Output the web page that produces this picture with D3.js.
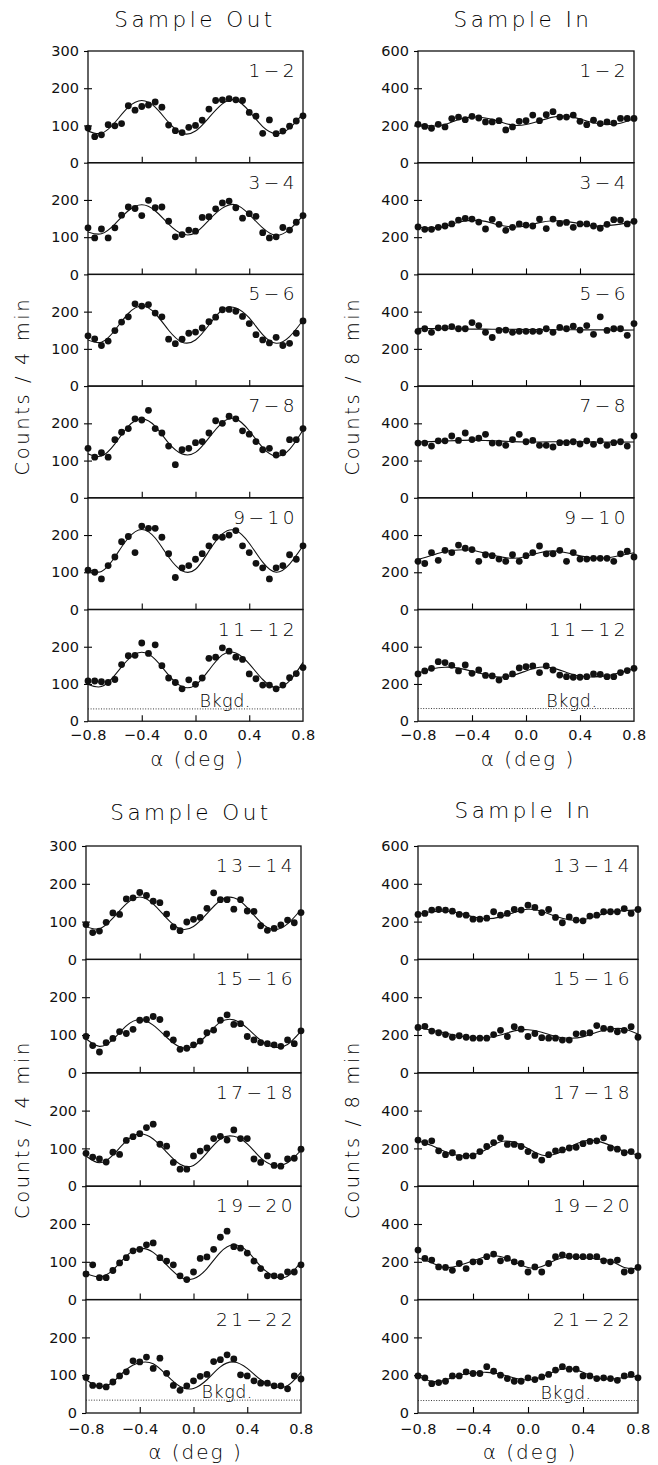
<!DOCTYPE html>
<html>
<head>
<meta charset="utf-8">
<script src="https://cdn.jsdelivr.net/npm/d3@7"></script>
<style>
  body { margin: 0; background: #fff; }
  svg text { font-family: "DejaVu Sans", sans-serif; font-weight: 200; fill: #000; }
  svg .tick text { font-weight: 400; fill: #111; }
</style>
</head>
<body>
<div id="chart"></div>
<script>
// angle of each measured point (deg)
var alpha = [-0.8, -0.75, -0.7, -0.65, -0.6, -0.55, -0.5, -0.45, -0.4, -0.35, -0.3,
             -0.25, -0.2, -0.15, -0.1, -0.05, 0.0, 0.05, 0.1, 0.15, 0.2, 0.25,
             0.3, 0.35, 0.4, 0.45, 0.5, 0.55, 0.6, 0.65, 0.7, 0.75, 0.8];
// angles where the fitted curves were read
var fitAlpha = [-0.8, -0.7, -0.6, -0.5, -0.4, -0.3, -0.2, -0.1, 0.0,
                0.1, 0.2, 0.3, 0.4, 0.5, 0.6, 0.7, 0.8];

var topLabels = ["1\u22122", "3\u22124", "5\u22126", "7\u22128", "9\u221210", "11\u221212"];
var bottomLabels = ["13\u221214", "15\u221216", "17\u221218", "19\u221220", "21\u221222"];

// Sample Out, counts / 4 min
var outTopCounts = [
  [93,70,75,102,99,105,153,141,151,155,163,149,101,86,81,95,100,114,144,167,169,172,169,167,135,125,79,115,78,85,98,112,126],
  [125,98,122,98,125,159,181,177,158,199,179,181,143,101,107,119,116,153,155,176,192,197,179,151,163,156,112,98,101,126,119,140,158],
  [135,127,109,121,149,172,186,221,215,219,196,186,126,114,126,142,145,156,173,185,205,206,201,187,168,138,124,116,131,109,115,142,175],
  [133,109,121,109,156,176,186,212,209,235,186,174,139,89,129,133,148,151,174,207,200,219,212,180,171,151,129,133,115,121,156,156,186],
  [106,100,82,118,141,182,196,153,224,218,218,194,150,86,112,118,135,150,171,194,194,200,212,171,153,124,112,82,112,118,147,135,171],
  [108,108,106,104,112,152,176,177,210,182,205,149,116,104,87,111,99,116,169,172,197,188,172,166,127,114,97,97,87,97,117,128,144]
];
var outTopFit = [
  [85,79,108,149,167,149,108,79,85,121,158,168,138,97,78,93,132],
  [114,109,135,171,187,171,135,109,112,146,178,187,161,125,105,121,158],
  [124,118,150,195,215,195,150,118,124,164,205,210,183,138,115,133,177],
  [118,112,145,192,212,192,147,118,122,161,202,212,180,135,112,130,182],
  [108,102,141,192,215,192,141,104,108,157,203,212,178,127,100,122,171],
  [99,93,124,166,185,166,124,93,97,137,178,183,154,112,90,108,158]
];

// Sample In, counts / 8 min
var inTopCounts = [
  [206,195,185,206,192,237,245,231,249,240,219,219,226,176,192,222,226,256,226,258,274,245,245,256,222,204,228,210,219,213,238,238,238],
  [255,242,242,253,260,271,292,301,297,281,244,296,269,237,253,271,265,260,297,246,297,274,279,253,271,271,260,248,269,294,292,271,285],
  [294,308,289,313,313,320,308,308,341,325,289,261,299,301,289,294,294,294,294,308,289,315,308,322,301,325,278,372,299,308,308,273,336],
  [294,294,278,306,306,332,308,348,313,320,341,294,294,282,313,341,301,308,282,282,273,296,296,301,289,306,287,306,282,296,301,278,332],
  [259,247,306,264,318,306,346,329,322,259,294,289,271,259,294,259,289,306,341,299,299,318,259,306,271,271,275,275,275,259,299,313,282],
  [254,270,284,320,315,300,270,302,257,275,246,243,221,239,254,286,293,297,261,297,275,248,239,236,236,239,254,252,239,239,261,272,284]
];
var inTopFit = [
  [205,197,205,232,245,240,222,202,205,225,245,250,235,215,205,212,236],
  [255,250,258,280,290,285,265,255,260,278,288,285,272,260,262,270,285],
  [310,309,308,307,306,306,305,305,304,304,303,303,302,302,302,301,301],
  [300,302,305,308,310,308,305,302,300,300,301,302,301,300,299,299,300],
  [268,290,312,320,318,302,285,275,285,305,315,305,288,277,278,290,305],
  [258,280,290,285,268,250,237,245,270,290,285,262,242,238,245,262,282]
];

var outBottomCounts = [
  [92,71,75,98,123,119,160,163,177,169,154,150,120,86,76,99,106,111,135,176,158,158,133,158,128,127,89,77,82,91,104,97,124],
  [96,72,55,80,91,109,104,115,139,141,149,141,103,87,62,65,74,84,106,113,139,153,128,130,96,87,80,77,74,70,87,77,111],
  [87,77,72,64,90,84,121,131,139,155,164,111,106,63,45,45,80,93,101,126,132,122,149,126,126,72,63,80,55,53,72,74,98],
  [68,92,58,58,77,97,111,129,133,145,150,111,102,92,63,53,73,109,113,133,165,181,140,136,123,102,82,63,63,61,73,73,92],
  [94,73,72,69,82,98,109,138,135,148,118,145,105,73,60,72,85,97,102,136,141,154,143,101,98,85,79,79,72,72,64,98,90]
];
var outBottomFit = [
  [87,81,109,147,165,147,109,81,87,121,156,163,137,98,79,94,132],
  [90,70,88,124,141,126,94,68,70,100,134,140,118,86,68,75,110],
  [80,62,82,120,138,125,90,58,55,88,125,132,112,75,55,62,95],
  [70,60,78,115,135,125,92,60,55,82,125,145,128,88,62,62,100],
  [88,70,82,115,133,130,100,70,65,88,122,135,118,88,70,72,108]
];

var inBottomCounts = [
  [238,243,261,264,261,255,238,234,213,213,218,252,234,243,264,261,287,275,248,264,222,194,225,208,204,229,234,252,252,252,269,243,264],
  [240,246,221,212,202,188,196,188,183,183,183,202,225,192,244,231,192,208,186,183,183,173,173,206,208,212,250,235,231,217,225,244,188],
  [244,231,240,187,167,177,152,160,160,183,210,231,256,221,221,210,183,163,138,167,187,192,202,206,225,237,240,256,202,196,177,183,160],
  [262,218,209,173,170,155,191,164,200,200,227,241,205,218,200,191,146,173,146,191,227,236,230,227,227,227,227,205,200,209,146,152,170],
  [196,186,155,161,168,196,196,218,209,209,245,221,200,182,168,168,186,177,191,204,227,245,232,232,196,196,182,186,182,173,196,204,186]
];
var inBottomFit = [
  [240,252,255,245,225,215,225,248,265,255,228,210,210,230,250,258,262],
  [240,225,210,195,187,186,200,222,228,215,192,183,190,215,232,232,205],
  [240,215,182,162,165,195,235,232,200,165,170,205,238,240,215,185,165],
  [220,195,170,180,205,228,228,200,170,175,210,225,222,215,205,170,165],
  [195,168,175,200,212,215,205,185,175,190,222,235,215,185,180,188,195]
];

// background level for each block [Out, In]
var bkgdTop = [33, 68];
var bkgdBottom = [34, 66];

var width = 658, height = 1465;

var svg = d3.select("#chart").append("svg")
    .attr("width", width)
    .attr("height", height)
    .attr("viewBox", "0 0 " + width + " " + height);

svg.append("rect").attr("width", width).attr("height", height).attr("fill", "#fff");

function drawBlock(o) {
  var n = o.labels.length;
  var h = o.panelH;
  var g = svg.append("g");
  var x = d3.scaleLinear().domain([-0.8, 0.8]).range([o.left, o.right]);

  g.append("clipPath").attr("id", "clip-" + o.id)
    .append("rect")
    .attr("x", o.left).attr("y", o.top)
    .attr("width", o.right - o.left).attr("height", h * n);

  for (var i = 0; i < n; i++) {
    var top = o.top + i * h, bottom = top + h;
    var y = d3.scaleLinear().domain([0, o.yMax]).range([bottom, top]);
    var s = o.yStep;
    var labelTicks = i == 0 ? [0, s, 2 * s, 3 * s] : [0, s, 2 * s];

    // y tick labels + outside ticks
    var ya = g.append("g").attr("transform", "translate(" + o.left + ",0)")
      .call(d3.axisLeft(y).tickValues(labelTicks).tickSize(4).tickPadding(5).tickFormat(d3.format("d")));
    ya.select(".domain").remove();
    ya.selectAll("text").style("font-size", "14.5px");
    ya.selectAll("line").attr("stroke-width", 1.1);

    // inside y ticks
    var yi = g.append("g").attr("transform", "translate(" + o.left + ",0)")
      .call(d3.axisLeft(y).tickValues([s, 2 * s]).tickSize(-4).tickFormat(""));
    yi.select(".domain").remove();
    yi.selectAll("line").attr("stroke-width", 1.1);

    // x ticks inside the bottom edge
    var xi = g.append("g").attr("transform", "translate(0," + bottom + ")")
      .call(d3.axisBottom(x).tickValues([-0.4, 0, 0.4]).tickSize(-6).tickFormat(""));
    xi.select(".domain").remove();
    xi.selectAll("line").attr("stroke-width", 1.1);

    // frame
    g.append("rect")
      .attr("x", o.left).attr("y", top)
      .attr("width", o.right - o.left).attr("height", h)
      .attr("fill", "none").attr("stroke", "#111").attr("stroke-width", 1.3);

    // fitted curve
    var line = d3.line()
      .x(function(d, j) { return x(fitAlpha[j]); })
      .y(function(d) { return y(d); })
      .curve(d3.curveNatural);
    g.append("path")
      .datum(o.fits[i])
      .attr("d", line)
      .attr("clip-path", "url(#clip-" + o.id + ")")
      .attr("fill", "none")
      .attr("stroke", "#111")
      .attr("stroke-width", 1.1);

    // data points
    g.selectAll(".pt" + i)
      .data(o.counts[i])
      .enter().append("circle")
      .attr("class", "pt" + i)
      .attr("cx", function(d, j) { return x(alpha[j]); })
      .attr("cy", function(d) { return y(d); })
      .attr("r", 3.4)
      .attr("fill", "#111");

    // panel label
    g.append("text")
      .attr("x", o.right - 5)
      .attr("y", top + 26)
      .attr("text-anchor", "end")
      .style("font-size", "18.5px")
      .style("letter-spacing", "3.5px")
      .text(o.labels[i]);

    if (i == n - 1) {
      // background line
      g.append("line")
        .attr("x1", x(-0.8)).attr("x2", x(0.8))
        .attr("y1", y(o.bkgd)).attr("y2", y(o.bkgd))
        .attr("stroke", "#222")
        .attr("stroke-width", 0.9)
        .attr("stroke-dasharray", "1,1.6");
      g.append("text")
        .attr("x", x(o.bkgdX))
        .attr("y", y(o.bkgd) - 2)
        .style("font-size", "17.5px")
        .style("letter-spacing", "0.5px")
        .text("Bkgd.");

      // x axis labels
      var xa = g.append("g").attr("transform", "translate(0," + bottom + ")")
        .call(d3.axisBottom(x).tickValues([-0.8, -0.4, 0, 0.4, 0.8]).tickSize(0)
          .tickPadding(o.xPad).tickFormat(d3.format(".1f")));
      xa.select(".domain").remove();
      xa.selectAll("text").style("font-size", "14.5px").style("letter-spacing", "0.5px");

      g.append("text")
        .attr("x", (o.left + o.right) / 2 + 2)
        .attr("y", bottom + o.xTitle)
        .attr("text-anchor", "middle")
        .style("font-size", "20px")
        .style("letter-spacing", "2px")
        .text("\u03b1 (deg )");
    }
  }

  // column title
  g.append("text")
    .attr("x", o.titleX)
    .attr("y", o.titleY)
    .attr("text-anchor", "middle")
    .style("font-size", "21.5px")
    .style("letter-spacing", "3.5px")
    .text(o.title);

  // y axis title
  g.append("text")
    .attr("transform", "translate(" + o.yTitleX + "," + (o.top + h * n / 2) + ") rotate(-90)")
    .attr("text-anchor", "middle")
    .style("font-size", "19.5px")
    .style("letter-spacing", "2.6px")
    .text(o.yTitle);
}

drawBlock({ id: "tl", left: 88, right: 303, top: 51, panelH: 111.7,
  yMax: 300, yStep: 100, labels: topLabels, counts: outTopCounts, fits: outTopFit,
  bkgd: bkgdTop[0], bkgdX: 0.03, xPad: 9, xTitle: 45,
  title: "Sample Out", titleX: 195, titleY: 27, yTitle: "Counts / 4 min", yTitleX: 29 });

drawBlock({ id: "tr", left: 418, right: 634, top: 51, panelH: 111.7,
  yMax: 600, yStep: 200, labels: topLabels, counts: inTopCounts, fits: inTopFit,
  bkgd: bkgdTop[1], bkgdX: 0.15, xPad: 9, xTitle: 45,
  title: "Sample In", titleX: 523, titleY: 27, yTitle: "Counts / 8 min", yTitleX: 359 });

drawBlock({ id: "bl", left: 86, right: 301, top: 846, panelH: 113.4,
  yMax: 300, yStep: 100, labels: bottomLabels, counts: outBottomCounts, fits: outBottomFit,
  bkgd: bkgdBottom[0], bkgdX: 0.06, xPad: 11, xTitle: 46,
  title: "Sample Out", titleX: 191, titleY: 820, yTitle: "Counts / 4 min", yTitleX: 29 });

drawBlock({ id: "br", left: 418, right: 638, top: 846, panelH: 113.4,
  yMax: 600, yStep: 200, labels: bottomLabels, counts: inBottomCounts, fits: inBottomFit,
  bkgd: bkgdBottom[1], bkgdX: 0.09, xPad: 11, xTitle: 46,
  title: "Sample In", titleX: 524, titleY: 818, yTitle: "Counts / 8 min", yTitleX: 359 });
</script>
</body>
</html>
